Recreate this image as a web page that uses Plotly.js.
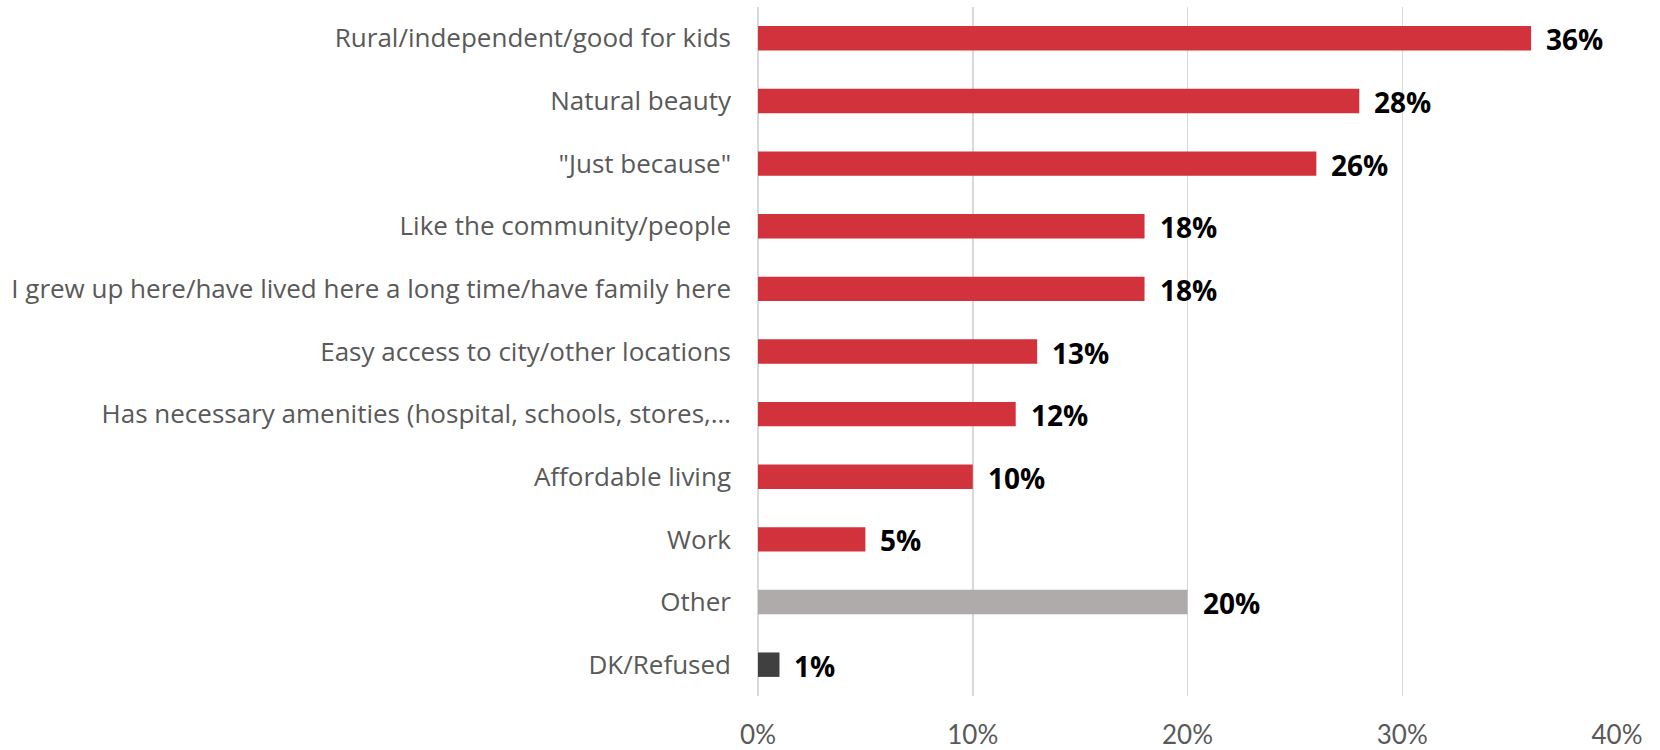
<!DOCTYPE html>
<html>
<head>
<meta charset="utf-8">
<script src="https://cdn.plot.ly/plotly-3.0.1.min.js"></script>
<style>html,body{margin:0;padding:0;background:#fff;}#chart{width:1660px;height:750px;}</style>
</head>
<body>
<div id="chart"></div>
<script>
const categories = [
  "Rural/independent/good for kids",
  "Natural beauty",
  "\"Just because\"",
  "Like the community/people",
  "I grew up here/have lived here a long time/have family here",
  "Easy access to city/other locations",
  "Has necessary amenities (hospital, schools, stores,…",
  "Affordable living",
  "Work",
  "Other",
  "DK/Refused"
];
const values = [0.36, 0.28, 0.26, 0.18, 0.18, 0.13, 0.12, 0.10, 0.05, 0.20, 0.01];
const labels = ["36%","28%","26%","18%","18%","13%","12%","10%","5%","20%","1%"];
const barColors = ["#D1323B","#D1323B","#D1323B","#D1323B","#D1323B","#D1323B","#D1323B","#D1323B","#D1323B","#AFABAB","#404040"];
const tickVals = [0, 0.1, 0.2, 0.3, 0.4];
const tickText = ["0%","10%","20%","30%","40%"];

const trace = {
  type: "bar",
  orientation: "h",
  x: values,
  y: categories,
  marker: {color: barColors},
  width: 0.39,
  hoverinfo: "none"
};

const annotations = values.map((v, i) => ({
  x: v, y: categories[i], xref: "x", yref: "y",
  text: labels[i], showarrow: false, xanchor: "left", yanchor: "middle",
  xshift: 13, yshift: -1,
  font: {family: "Open Sans", size: 28, color: "#000000", weight: 700}
}));

const layout = {
  width: 1660, height: 750,
  margin: {l: 758, r: 43, t: 7, b: 54},
  paper_bgcolor: "#ffffff", plot_bgcolor: "#ffffff",
  showlegend: false,
  bargap: 0.61,
  xaxis: {
    range: [0, 0.4],
    tickvals: tickVals, ticktext: tickText,
    showgrid: true, gridcolor: "#D9D9D9", gridwidth: 1.5,
    zeroline: true, zerolinecolor: "#D9D9D9", zerolinewidth: 1.5,
    showline: false,
    ticks: "", ticklabelstandoff: 21,
    tickfont: {family: "Lato", size: 26, color: "#595959"},
    fixedrange: true
  },
  yaxis: {
    autorange: "reversed",
    type: "category",
    showgrid: false, zeroline: false, showline: false,
    ticks: "", ticklabelstandoff: 26,
    tickfont: {family: "Open Sans", size: 26, color: "#595959"},
    fixedrange: true
  },
  annotations: annotations
};

Plotly.newPlot("chart", [trace], layout, {displayModeBar: false, staticPlot: true});
</script>
</body>
</html>
